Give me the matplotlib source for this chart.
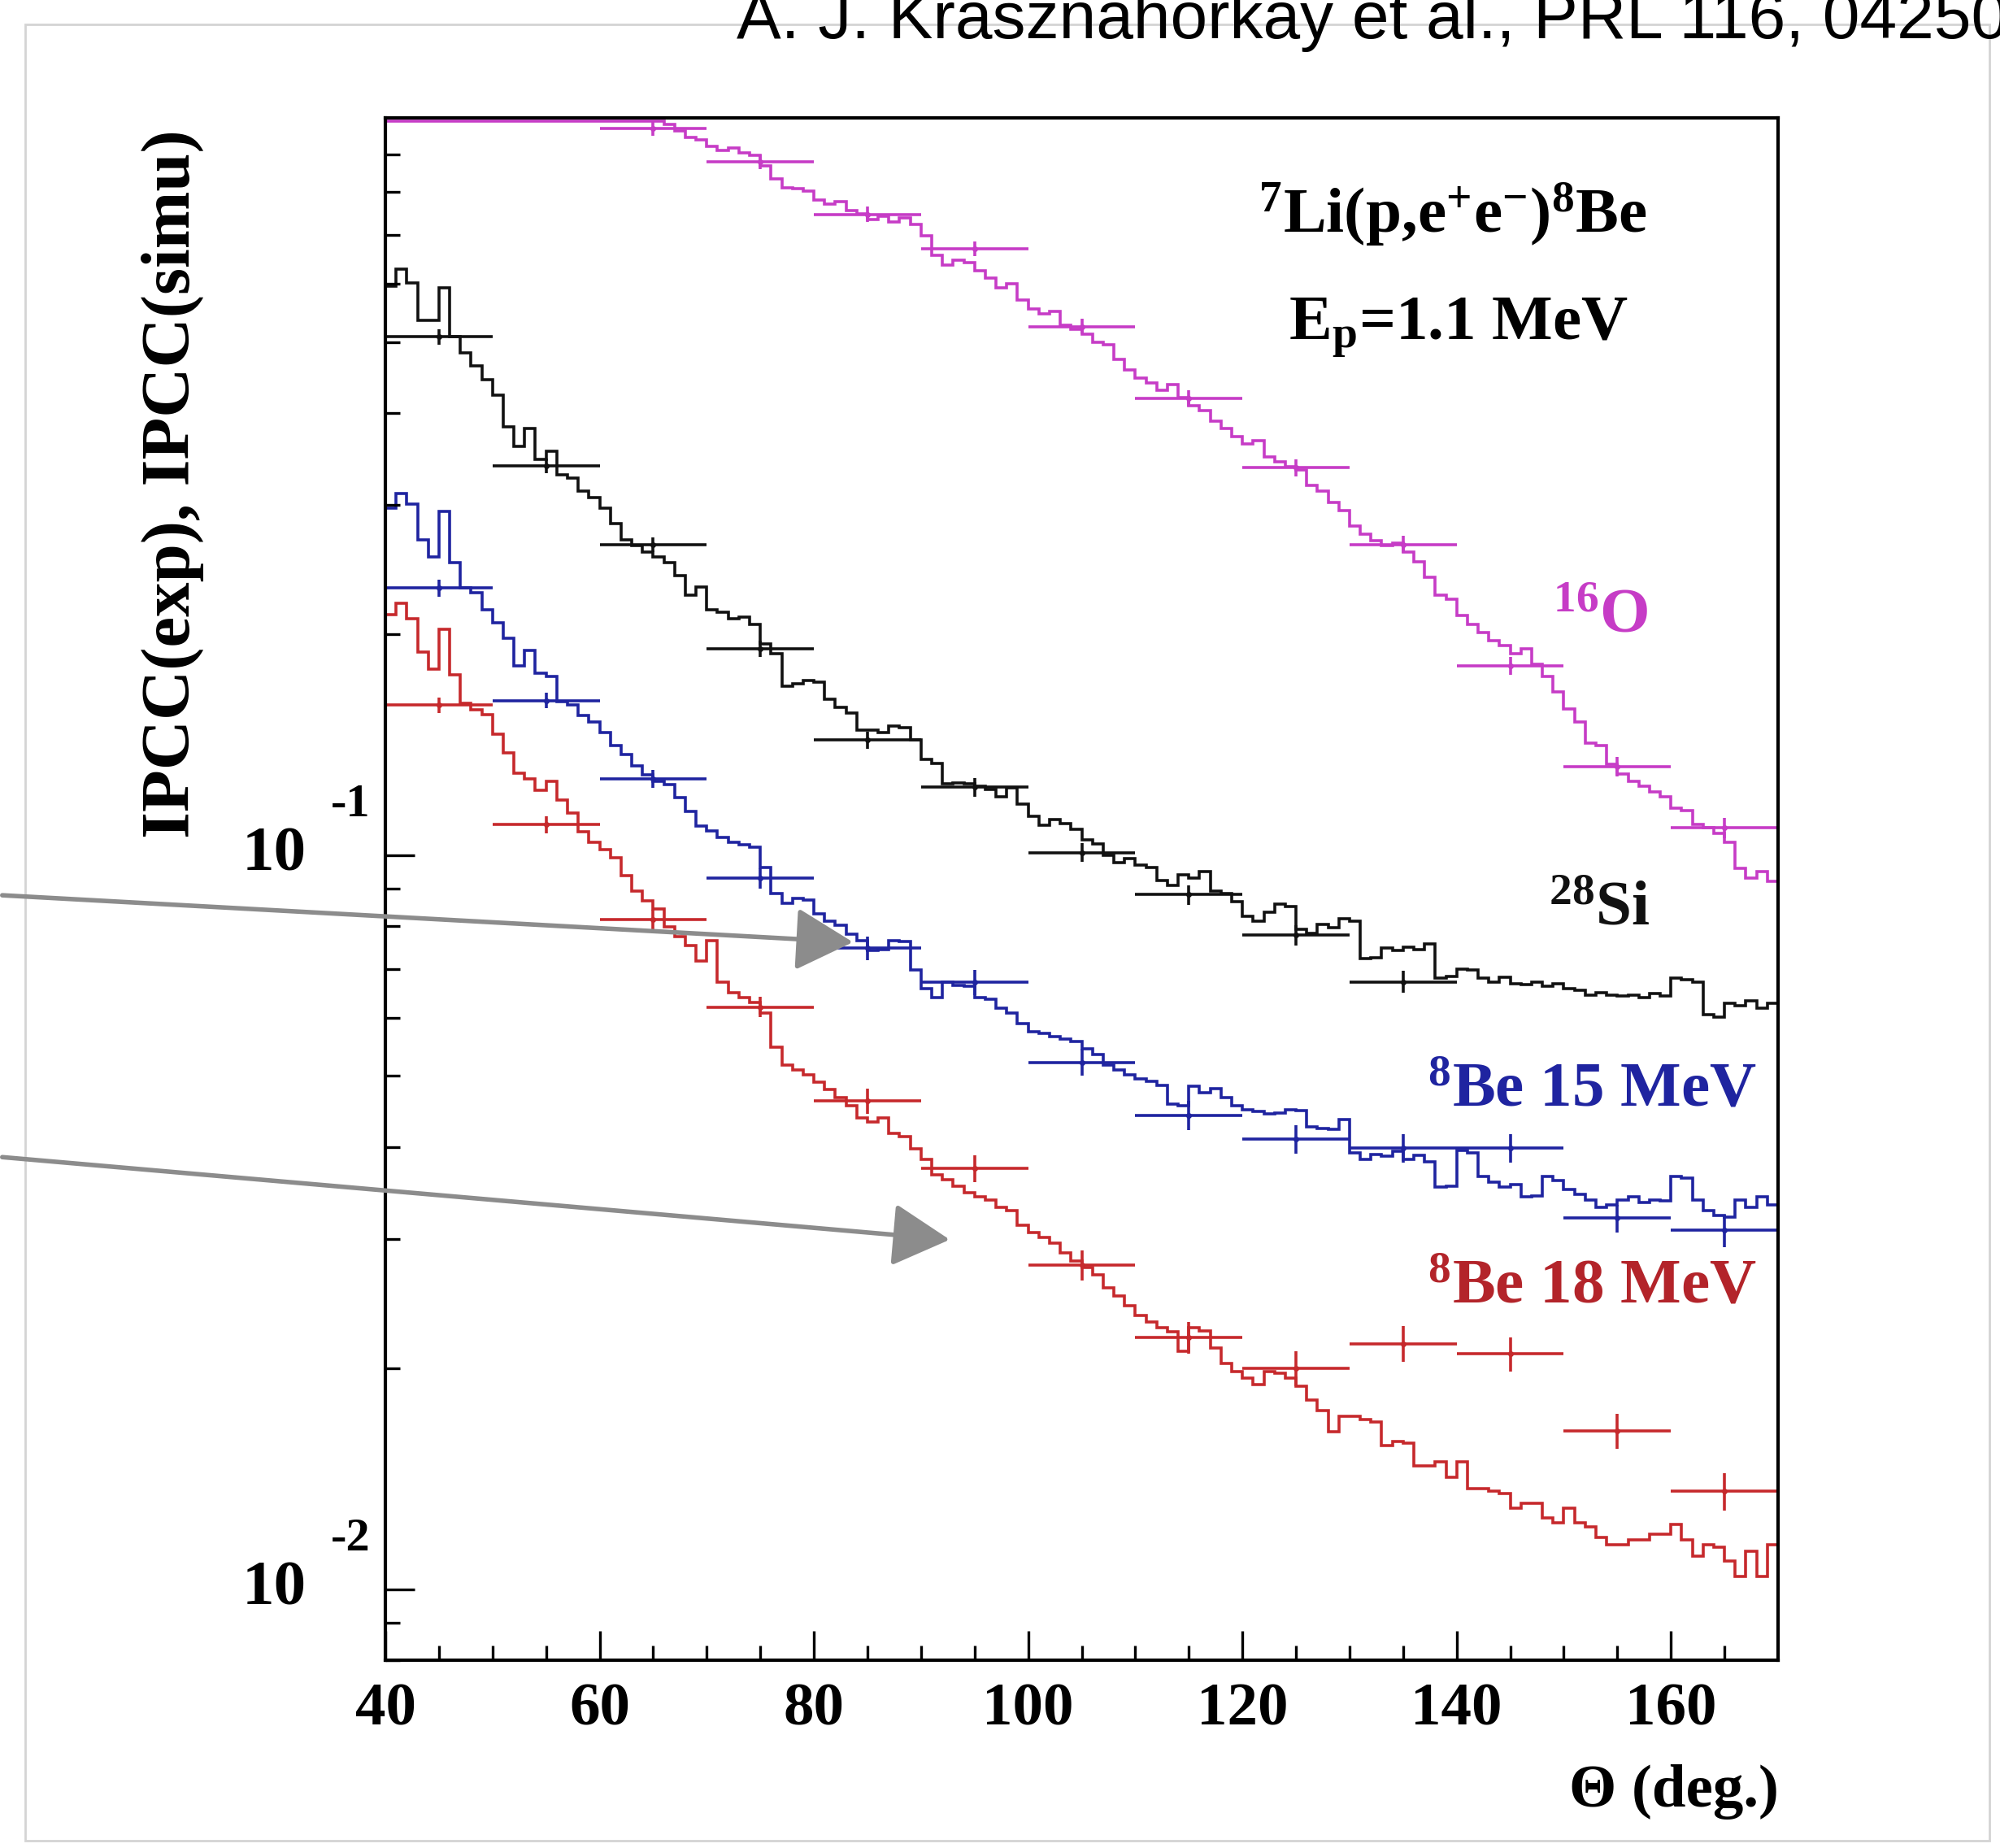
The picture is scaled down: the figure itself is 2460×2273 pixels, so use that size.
import numpy as np
import matplotlib
matplotlib.use("Agg")
import matplotlib.pyplot as plt
from matplotlib.patches import FancyArrowPatch, Rectangle
from matplotlib.transforms import blended_transform_factory, offset_copy

plt.rcParams['font.family'] = ['Liberation Serif', 'DejaVu Serif']
plt.rcParams['font.weight'] = 'bold'
plt.rcParams['mathtext.fontset'] = 'custom'
plt.rcParams['mathtext.rm'] = 'Liberation Serif:bold'
plt.rcParams['mathtext.bf'] = 'Liberation Serif:bold'
plt.rcParams['mathtext.it'] = 'Liberation Serif:bold'
plt.rcParams['mathtext.default'] = 'rm'

# simulated IPCC, 1 deg bins from 40 to 170 deg
theta_edges = np.arange(40, 171)

o16_sim = [1.0, 1.0, 1.0, 1.0, 1.0, 1.0, 1.0, 1.0, 1.0, 1.0,
           1.0, 1.0, 1.0, 1.0, 1.0, 1.0, 1.0, 1.0, 1.0, 1.0,
           1.0, 1.0, 1.0, 1.0, 1.0, 1.0, 0.99, 0.969, 0.949, 0.942,
           0.923, 0.912, 0.919, 0.905, 0.898, 0.869, 0.835, 0.812, 0.809, 0.802,
           0.780, 0.771, 0.777, 0.756, 0.747, 0.735, 0.741, 0.729, 0.738, 0.723,
           0.697, 0.657, 0.636, 0.646, 0.641, 0.626, 0.611, 0.592, 0.601, 0.571,
           0.555, 0.546, 0.551, 0.527, 0.521, 0.512, 0.500, 0.496, 0.473, 0.458,
           0.447, 0.440, 0.430, 0.437, 0.420, 0.409, 0.403, 0.390, 0.381, 0.372,
           0.363, 0.367, 0.349, 0.343, 0.338, 0.335, 0.319, 0.313, 0.302, 0.295,
           0.281, 0.274, 0.268, 0.264, 0.266, 0.259, 0.251, 0.239, 0.226, 0.223,
           0.212, 0.206, 0.201, 0.196, 0.193, 0.188, 0.191, 0.182, 0.175, 0.167,
           0.158, 0.152, 0.142, 0.141, 0.133, 0.129, 0.126, 0.124, 0.122, 0.120,
           0.116, 0.115, 0.110, 0.109, 0.107, 0.104, 0.096, 0.093, 0.095, 0.092]

si28_sim = [0.596, 0.628, 0.602, 0.535, 0.535, 0.592, 0.508, 0.483, 0.464, 0.444,
            0.423, 0.383, 0.360, 0.381, 0.346, 0.355, 0.330, 0.326, 0.313, 0.307,
            0.297, 0.283, 0.269, 0.264, 0.259, 0.255, 0.250, 0.240, 0.226, 0.232,
            0.216, 0.214, 0.210, 0.211, 0.206, 0.194, 0.188, 0.170, 0.171, 0.173,
            0.172, 0.163, 0.159, 0.156, 0.148, 0.148, 0.147, 0.150, 0.149, 0.1435,
            0.135, 0.1334, 0.125, 0.1255, 0.125, 0.124, 0.1228, 0.120, 0.1235, 0.1174,
            0.1128, 0.1097, 0.1118, 0.1105, 0.1083, 0.105, 0.1035, 0.100, 0.0977, 0.0988,
            0.0969, 0.0961, 0.0923, 0.0909, 0.0939, 0.0931, 0.0950, 0.0894, 0.0886, 0.0865,
            0.0825, 0.0813, 0.0836, 0.0858, 0.0851, 0.0793, 0.0782, 0.0804, 0.0796, 0.0819,
            0.0813, 0.0723, 0.0725, 0.0747, 0.0741, 0.0750, 0.0744, 0.0756, 0.0679, 0.0684,
            0.0700, 0.0698, 0.0679, 0.0671, 0.0682, 0.0668, 0.0666, 0.0671, 0.0663, 0.0668,
            0.0657, 0.0655, 0.0644, 0.0649, 0.0644, 0.0642, 0.0644, 0.0639, 0.0647, 0.0642,
            0.0679, 0.0677, 0.0671, 0.0606, 0.0601, 0.0628, 0.0623, 0.0633, 0.0618, 0.0628]

be15_sim = [0.297, 0.311, 0.301, 0.269, 0.255, 0.294, 0.250, 0.231, 0.228, 0.216,
            0.207, 0.1975, 0.181, 0.190, 0.177, 0.175, 0.162, 0.160, 0.155, 0.152,
            0.147, 0.141, 0.137, 0.1323, 0.1287, 0.1261, 0.1246, 0.1197, 0.1146, 0.1096,
            0.1079, 0.1057, 0.1041, 0.1033, 0.1025, 0.0961, 0.0887, 0.0859, 0.0872, 0.0869,
            0.0832, 0.0813, 0.0803, 0.0780, 0.0765, 0.0741, 0.0744, 0.0765, 0.0762, 0.0698,
            0.0657, 0.0639, 0.0671, 0.0665, 0.0662, 0.0639, 0.0636, 0.0619, 0.0609, 0.0589,
            0.0575, 0.0571, 0.0566, 0.0562, 0.0557, 0.0544, 0.0535, 0.0518, 0.0510, 0.0502,
            0.0496, 0.0492, 0.0486, 0.0458, 0.0456, 0.0484, 0.0474, 0.0481, 0.0467, 0.0456,
            0.0450, 0.0447, 0.0444, 0.0445, 0.0450, 0.0449, 0.0426, 0.0424, 0.0423, 0.0436,
            0.0393, 0.0385, 0.0391, 0.0389, 0.0395, 0.0385, 0.0390, 0.0382, 0.0353, 0.0354,
            0.0396, 0.0393, 0.0365, 0.0358, 0.0353, 0.0356, 0.0342, 0.0343, 0.0365, 0.0360,
            0.0350, 0.0345, 0.0339, 0.0331, 0.0334, 0.0339, 0.0342, 0.0336, 0.0339, 0.0338,
            0.0365, 0.0363, 0.0339, 0.0328, 0.0323, 0.0321, 0.0339, 0.0331, 0.0342, 0.0334]

be18_sim = [0.2124, 0.2202, 0.2099, 0.189, 0.1793, 0.2030, 0.1759, 0.1610, 0.1578, 0.1554,
            0.1463, 0.1378, 0.1292, 0.1271, 0.1226, 0.1261, 0.1188, 0.1141, 0.1075, 0.1041,
            0.1017, 0.0992, 0.0938, 0.0894, 0.0866, 0.0845, 0.0799, 0.0774, 0.0753, 0.0718,
            0.0765, 0.0671, 0.0649, 0.0639, 0.0629, 0.0609, 0.0548, 0.0518, 0.0510, 0.0502,
            0.0490, 0.0479, 0.0467, 0.0456, 0.0438, 0.0433, 0.0438, 0.0418, 0.0413, 0.0398,
            0.0385, 0.0367, 0.0361, 0.0354, 0.0347, 0.0342, 0.0339, 0.0331, 0.0328, 0.0313,
            0.0306, 0.0301, 0.0296, 0.0287, 0.0280, 0.0274, 0.0268, 0.0257, 0.0251, 0.0243,
            0.0236, 0.0231, 0.0227, 0.0224, 0.0211, 0.0227, 0.0225, 0.0213, 0.0203, 0.0198,
            0.0194, 0.0190, 0.0198, 0.0197, 0.0194, 0.0189, 0.0181, 0.0175, 0.0164, 0.0172,
            0.0172, 0.0170, 0.0169, 0.0157, 0.0159, 0.0158, 0.0147, 0.0147, 0.0149, 0.0142,
            0.0149, 0.0137, 0.0137, 0.0136, 0.0135, 0.0129, 0.0131, 0.0131, 0.0125, 0.0123,
            0.0129, 0.0123, 0.01216, 0.01177, 0.0115, 0.0115, 0.01168, 0.01168, 0.01187, 0.01187,
            0.01226, 0.01168, 0.01109, 0.0115, 0.0114, 0.01092, 0.0104, 0.01127, 0.0104, 0.0115]

# measured IPCC, 10 deg wide bins
o16_theta = [65, 75, 85, 95, 105, 115, 125, 135, 145, 155, 165]
o16_exp = [0.976, 0.880, 0.746, 0.670, 0.525, 0.419, 0.337, 0.265, 0.181, 0.132, 0.109]
o16_err = [0.02, 0.02, 0.018, 0.016, 0.013, 0.011, 0.009, 0.007, 0.005, 0.004, 0.0035]

si28_theta = [45, 55, 65, 75, 85, 95, 105, 115, 125, 135]
si28_exp = [0.508, 0.339, 0.265, 0.191, 0.1434, 0.1237, 0.1008, 0.0883, 0.0778, 0.0672]
si28_err = [0.012, 0.008, 0.006, 0.005, 0.004, 0.0035, 0.003, 0.0027, 0.0025, 0.0023]

be_theta = [45, 55, 65, 75, 85, 95, 105, 115, 125, 135, 145, 155, 165]
be15_exp = [0.231, 0.1624, 0.1271, 0.0930, 0.0747, 0.0671, 0.0522, 0.0442, 0.0410,
            0.0399, 0.0399, 0.0320, 0.0308]
be15_err = [0.006, 0.004, 0.0035, 0.003, 0.0028, 0.0026, 0.0022, 0.002, 0.0018,
            0.0018, 0.0018, 0.0014, 0.0016]
be18_exp = [0.160, 0.110, 0.0817, 0.0621, 0.0462, 0.0374, 0.0276, 0.0220, 0.0200,
            0.0216, 0.0209, 0.01644, 0.0136]
be18_err = [0.004, 0.003, 0.0025, 0.002, 0.0018, 0.0016, 0.0013, 0.0011, 0.0011,
            0.0012, 0.0011, 0.0009, 0.0008]

x_major = [40, 60, 80, 100, 120, 140, 160]
y_decades = [1e-2, 1e-1]
y_expos = ['-2', '-1']

c_o16 = '#c63cc6'
c_si = '#111111'
c_b15 = '#1f24a0'
c_b18 = '#c6292c'

W, H = 2460, 2273
fig = plt.figure(figsize=(W / 100, H / 100), dpi=100)
ax = fig.add_axes([474 / W, 1 - 2042 / H, (2187 - 474) / W, (2042 - 145) / H])

for vals, col in [(o16_sim, c_o16), (si28_sim, c_si), (be15_sim, c_b15), (be18_sim, c_b18)]:
    ax.stairs(vals, theta_edges, color=col, lw=2.6)

for th, v, e, col in [(o16_theta, o16_exp, o16_err, c_o16), (si28_theta, si28_exp, si28_err, c_si),
                      (be_theta, be15_exp, be15_err, c_b15), (be_theta, be18_exp, be18_err, c_b18)]:
    ax.errorbar(th, v, xerr=5, yerr=e, fmt='o', ms=4, color=col, elinewidth=2.6, capsize=0)

ax.set_yscale('log')
ax.set_xlim(40, 170)
ax.set_ylim(0.008, 1.01)
ax.set_xticks(x_major)
ax.set_xticks(np.arange(45, 170, 5), minor=True)
ax.set_yticks(y_decades)
ax.set_yticklabels(['', ''])
ax.tick_params(which='both', direction='in', top=False, right=False, width=2.4)
ax.tick_params(which='major', length=26)
ax.tick_params(which='minor', length=13)
ax.tick_params(axis='x', labelsize=54, pad=20)
for s in ax.spines.values():
    s.set_linewidth(3)

# ROOT style 10^n labels
ytr = blended_transform_factory(ax.transAxes, ax.transData)
for val, expo in zip(y_decades, y_expos):
    ax.text(-0.0566, val, '10', transform=ytr, ha='right', va='center', fontsize=57)
    ax.text(-0.039, val, expo, transform=offset_copy(ytr, fig=fig, y=62, units='dots'),
            ha='left', va='center', fontsize=42)

fig.text(212 / W, 1 - 595 / H, 'IPCC(exp), IPCC(simu)', rotation=90, ha='center', va='center', fontsize=61)
fig.text(2188 / W, 1 - 2222 / H, 'Θ (deg.)', ha='right', va='baseline', fontsize=54)

fig.text(2026 / W, 1 - 286 / H, r'$^{7}$Li(p,e$^{+}$e$^{-}$)$^{8}$Be', ha='right', va='baseline', fontsize=57)
fig.text(2003 / W, 1 - 417 / H, r'E$_{\mathrm{p}}$=1.1 MeV', ha='right', va='baseline', fontsize=57)
fig.text(2028 / W, 1 - 777 / H, r'$^{16}$O', ha='right', va='baseline', fontsize=57, color=c_o16)
fig.text(2030 / W, 1 - 1137 / H, r'$^{28}$Si', ha='right', va='baseline', fontsize=57, color=c_si)
fig.text(2161 / W, 1 - 1360 / H, r'$^{8}$Be 15 MeV', ha='right', va='baseline', fontsize=57, color=c_b15)
fig.text(2161 / W, 1 - 1603 / H, r'$^{8}$Be 18 MeV', ha='right', va='baseline', fontsize=57, color='#b3242a')

# citation line, runs off the top right corner as in the source image
fig.text(906 / W, 1 - 47 / H, 'A. J. Krasznahorkay et al., PRL 116, 042501',
         family='Liberation Sans', fontweight='normal', fontsize=59, ha='left', va='baseline')

# screenshot frame
fig.add_artist(Rectangle((31 / W, 1 - 2264 / H), (2447 - 31) / W, (2264 - 30) / H,
                         transform=fig.transFigure, fill=False, edgecolor='#d4d4d4', lw=2))

# gray arrows
for (x0, y0), (x1, y1) in [((0, 1101), (1052, 1159)), ((0, 1423), (1171, 1525))]:
    fig.add_artist(FancyArrowPatch((x0 / W, 1 - y0 / H), (x1 / W, 1 - y1 / H),
                                   transform=fig.transFigure, arrowstyle='-|>,head_length=2.2,head_width=1.2',
                                   mutation_scale=20, color='#8c8c8c', lw=4))

fig.savefig('out.png', dpi=100)
plt.close(fig)
